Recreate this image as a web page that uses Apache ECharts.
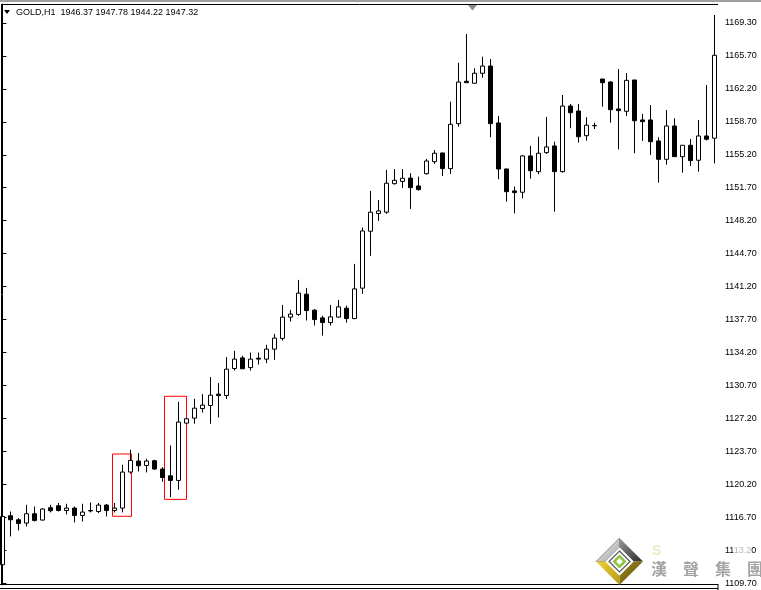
<!DOCTYPE html>
<html>
<head>
<meta charset="utf-8">
<script src="https://cdn.jsdelivr.net/npm/echarts@6/dist/echarts.min.js"></script>
<style>
html,body{margin:0;padding:0;background:#fff;}
#chart{width:761px;height:590px;}
</style>
</head>
<body>
<div id="chart"></div>
<script>
// ---- data (GOLD, H1) ----
var opens = [1111.64,1116.85,1116.42,1116.07,1117.06,1116.39,1117.70,1117.91,1117.41,1117.66,
1116.88,1117.40,1117.30,1117.98,1117.41,1117.66,1121.49,1122.66,1122.19,1122.69,
1121.81,1121.09,1120.60,1126.69,1127.22,1128.24,1128.56,1129.77,1129.62,1132.49,
1133.62,1132.59,1133.59,1133.49,1134.55,1135.69,1137.95,1138.24,1140.39,1138.69,
1137.87,1137.37,1137.95,1138.90,1137.80,1141.03,1147.08,1148.95,1149.10,1152.13,
1152.37,1152.72,1151.89,1153.19,1154.47,1155.39,1153.73,1158.51,1163.01,1162.80,
1163.86,1164.63,1158.58,1153.69,1151.36,1151.22,1155.08,1153.41,1155.43,1156.14,
1153.41,1160.38,1159.85,1157.23,1158.28,1163.25,1162.93,1160.07,1159.82,1163.15,
1158.90,1158.90,1156.67,1154.72,1158.26,1155.00,1156.21,1154.62,1157.20,1156.96];
var closes = [1116.77,1116.42,1116.03,1117.06,1116.35,1117.56,1117.38,1117.41,1117.66,1116.88,
1117.24,1117.36,1117.98,1117.41,1117.66,1121.49,1122.72,1122.16,1122.66,1121.81,
1120.91,1120.60,1126.80,1127.15,1128.28,1128.60,1129.66,1129.62,1132.42,1133.49,
1132.46,1133.49,1133.49,1134.55,1135.72,1137.95,1138.27,1140.50,1138.65,1137.69,
1137.37,1137.98,1139.04,1137.80,1140.95,1147.11,1149.10,1149.23,1152.18,1152.49,
1152.71,1151.71,1151.50,1154.54,1155.36,1153.73,1158.44,1162.93,1162.86,1163.86,
1164.63,1158.51,1153.69,1151.28,1151.18,1155.08,1153.51,1155.36,1156.03,1153.41,
1160.38,1159.67,1157.12,1158.34,1158.32,1162.86,1159.99,1159.89,1163.11,1158.82,
1158.72,1156.59,1154.72,1158.26,1155.00,1156.21,1154.58,1157.20,1156.85,1165.77];
var lows = [1110.93,1114.65,1115.29,1115.71,1116.24,1116.35,1117.20,1117.30,1116.99,1116.14,
1116.24,1117.20,1117.13,1116.77,1117.20,1117.20,1121.31,1121.55,1121.45,1121.73,
1120.46,1118.83,1119.61,1126.56,1126.62,1127.82,1126.62,1127.29,1129.24,1132.28,
1132.46,1132.28,1132.91,1133.06,1133.41,1135.46,1137.48,1138.09,1137.59,1137.06,
1135.99,1137.06,1137.90,1137.37,1137.73,1140.42,1144.46,1148.17,1148.92,1152.03,
1151.68,1149.45,1151.39,1153.09,1154.23,1152.95,1153.16,1158.19,1162.86,1162.75,
1163.39,1157.06,1152.60,1150.22,1148.99,1150.58,1152.67,1153.13,1155.29,1149.16,
1153.30,1158.02,1156.49,1156.70,1157.94,1160.31,1158.61,1155.79,1159.32,1155.36,
1156.67,1155.18,1152.24,1154.15,1155.00,1153.30,1154.01,1153.41,1156.72,1154.28];
var highs = [1119.61,1117.30,1116.60,1118.01,1117.83,1117.66,1118.01,1118.20,1118.12,1117.83,
1118.12,1118.26,1118.20,1118.09,1118.20,1122.26,1123.86,1123.50,1122.90,1122.79,
1122.02,1124.31,1128.95,1127.25,1129.27,1129.77,1131.58,1130.94,1133.70,1134.37,
1133.84,1134.19,1134.19,1135.01,1136.17,1139.25,1138.72,1141.91,1141.06,1138.80,
1138.09,1139.25,1139.78,1139.18,1143.61,1147.46,1151.36,1150.40,1153.59,1153.69,
1153.69,1153.24,1152.88,1154.76,1155.71,1155.43,1160.84,1164.98,1168.03,1164.39,
1165.62,1165.38,1159.32,1153.73,1151.82,1155.18,1156.14,1157.12,1159.22,1156.59,
1161.55,1160.60,1160.60,1159.19,1158.61,1163.25,1163.01,1164.31,1163.89,1163.15,
1159.54,1160.49,1157.06,1159.96,1159.08,1156.21,1156.88,1158.90,1162.61,1170.05];

var tickValues = [1109.7,1113.2,1116.7,1120.2,1123.7,1127.2,1130.7,1134.2,1137.7,1141.2,
1144.7,1148.2,1151.7,1155.2,1158.7,1162.2,1165.7,1169.2];
var tickLabels = ['1109.70','1113.20','1116.70','1120.20','1123.70','1127.20','1130.70','1134.20','1137.70','1141.20',
'1144.70','1148.20','1151.70','1155.20','1158.70','1162.20','1165.70','1169.30'];

// highlighted zones: [startBar, endBar, lowPrice, highPrice]
var boxes = [[13.75, 16.125, 1116.79, 1123.41], [20.25, 23.0, 1118.59, 1129.54]];

var headerText = 'GOLD,H1  1946.37 1947.78 1944.22 1947.32';
var logoText = '漢　聲　集　團';

// ---- build ----
var categories = opens.map(function (_, i) { return String(i); });
var ohlc = opens.map(function (o, i) { return [o, closes[i], lows[i], highs[i]]; });

var chart = echarts.init(document.getElementById('chart'), null, {renderer: 'canvas'});

var FONT = 'Liberation Sans';
var cx = 619.5, cy = 561.5;
function dia(r) { return [[cx, cy - r], [cx + r, cy], [cx, cy + r], [cx - r, cy]]; }
var R = 23.5, r = 14;

chart.setOption({
  animation: false,
  backgroundColor: '#ffffff',
  grid: {left: 2.5, right: 46.5, top: 4, bottom: 5, containLabel: false, outerBoundsMode: 'none'},
  xAxis: [
    {type: 'category', data: categories, boundaryGap: false,
     axisLine: {show: false}, axisTick: {show: false}, axisLabel: {show: false}, splitLine: {show: false}},
    {type: 'value', min: 0, max: 89, show: false}
  ],
  yAxis: {
    type: 'value', position: 'right', offset: 3.5, min: 1109.49, max: 1171.22, scale: true,
    axisLine: {show: true, lineStyle: {color: '#000', width: 1}},
    axisTick: {show: true, length: 4, inside: false, customValues: tickValues, lineStyle: {color: '#000'}},
    axisLabel: {
      show: true, customValues: tickValues, margin: 7, color: '#000',
      fontFamily: FONT, fontSize: 9,
      formatter: function (v) {
        var k = Math.round((v - tickValues[0]) / 3.5);
        return tickLabels[k] || v.toFixed(2);
      }
    },
    splitLine: {show: false}
  },
  series: [
    {
      type: 'candlestick', data: ohlc, barWidth: 4, clip: false,
      itemStyle: {color: '#ffffff', color0: '#000000', borderColor: '#000000', borderColor0: '#000000', borderWidth: 1}
    },
    {
      type: 'custom', xAxisIndex: 1, yAxisIndex: 0, data: boxes, clip: false,
      encode: {x: [0, 1], y: [2, 3]},
      renderItem: function (params, api) {
        var p0 = api.coord([api.value(0), api.value(3)]);
        var p1 = api.coord([api.value(1), api.value(2)]);
        return {type: 'rect', shape: {x: p0[0], y: p0[1], width: p1[0] - p0[0], height: p1[1] - p0[1]},
                style: {fill: 'none', stroke: '#ff0000', lineWidth: 1}};
      }
    }
  ],
  graphic: [
    {type: 'rect', shape: {x: 0, y: 0, width: 761, height: 2}, style: {fill: '#a0a0a0'}, z: 5},
    {type: 'line', shape: {x1: 1, y1: 4.5, x2: 718, y2: 4.5}, style: {stroke: '#000', lineWidth: 1}, z: 5},
    {type: 'line', shape: {x1: 1.5, y1: 4, x2: 1.5, y2: 585}, style: {stroke: '#000', lineWidth: 1}, z: 5},
    {type: 'line', shape: {x1: 0, y1: 584.5, x2: 718, y2: 584.5}, style: {stroke: '#000', lineWidth: 1}, z: 5},
    {type: 'line', shape: {x1: 0, y1: 588.5, x2: 718, y2: 588.5}, style: {stroke: '#000', lineWidth: 1}, z: 5},
    {type: 'line', shape: {x1: 718, y1: 584, x2: 718, y2: 590}, style: {stroke: '#000', lineWidth: 1}, z: 5},
    {type: 'polygon', shape: {points: [[468, 5], [477, 5], [472.5, 10.5]]}, style: {fill: '#8c8c8c'}, z: 6},
    {type: 'polygon', shape: {points: [[4, 10], [10, 10], [7, 14]]}, style: {fill: '#000'}, z: 6},
    {type: 'text', x: 16, y: 13, style: {text: headerText, fill: '#000', font: '9px "Liberation Sans"', verticalAlign: 'middle'}, z: 6},
    // watermark logo
    {type: 'rect', shape: {x: 733, y: 546, width: 18, height: 10}, style: {fill: 'rgba(255,255,255,0.7)'}, z: 50},
    {type: 'polygon', shape: {points: [[cx, cy - R], [cx, cy - r], [cx - r, cy], [cx - R, cy]]},
     style: {fill: new echarts.graphic.LinearGradient(0, 0, 1, 1, [{offset: 0, color: '#ffffff'}, {offset: 1, color: '#9a9a9a'}]), stroke: '#777', lineWidth: 0.8}, z: 50},
    {type: 'polygon', shape: {points: [[cx, cy - R], [cx + R, cy], [cx + r, cy], [cx, cy - r]]},
     style: {fill: new echarts.graphic.LinearGradient(0, 0, 1, 1, [{offset: 0, color: '#9a9a9a'}, {offset: 1, color: '#2a2a2a'}])}, z: 50},
    {type: 'polygon', shape: {points: [[cx - R, cy], [cx - r, cy], [cx, cy + r], [cx, cy + R]]},
     style: {fill: new echarts.graphic.LinearGradient(0, 0, 1, 1, [{offset: 0, color: '#f0d23a'}, {offset: 1, color: '#b89a10'}])}, z: 50},
    {type: 'polygon', shape: {points: [[cx + R, cy], [cx, cy + R], [cx, cy + r], [cx + r, cy]]},
     style: {fill: new echarts.graphic.LinearGradient(0, 0, 1, 1, [{offset: 0, color: '#a08a20'}, {offset: 1, color: '#5a4a08'}])}, z: 50},
    {type: 'polygon', shape: {points: dia(r)}, style: {fill: '#ffffff'}, z: 51},
    {type: 'polygon', shape: {points: dia(10.5)}, style: {fill: '#ffffff', stroke: '#555', lineWidth: 1.2}, z: 52},
    {type: 'polygon', shape: {points: dia(7)}, style: {fill: '#8cc23c'}, z: 53},
    {type: 'polygon', shape: {points: dia(3.5)}, style: {fill: '#ffffff'}, z: 54},
    {type: 'text', x: 652, y: 551, style: {text: 'S', fill: '#e6ebc4', font: 'bold 14px "Liberation Sans"', verticalAlign: 'middle'}, z: 50},
    {type: 'text', x: 651, y: 569, style: {text: logoText, fill: '#a3a3a3', font: 'bold 16px "Noto Sans CJK TC"', verticalAlign: 'middle'}, z: 50}
  ]
});
</script>
</body>
</html>
